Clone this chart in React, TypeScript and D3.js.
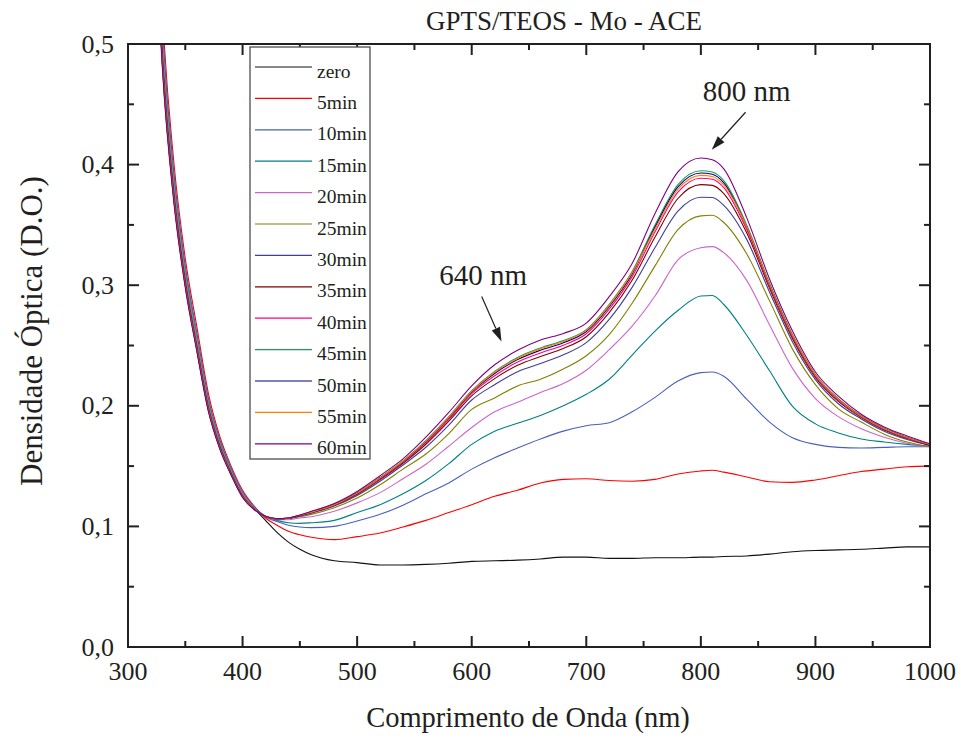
import React from "react";
import * as d3 from "d3";

const wavelengths = [320,330,340,350,360,370,380,390,400,410,420,430,440,450,460,480,500,520,540,560,580,600,620,640,660,680,700,720,740,760,780,800,810,820,840,860,880,900,920,940,960,980,1000];

const zero = [.72,.496,.380,.306,.252,.201,.168,.145,.126,.115,.105,.095,.087,.081,.0765,.0715,.070,.068,.068,.0685,.0695,.071,.0715,.072,.073,.0745,.0745,.0735,.0735,.074,.074,.0745,.0745,.075,.0755,.077,.079,.080,.0805,.081,.082,.083,.083];
const m5 = [.795,.529,.402,.322,.266,.211,.175,.150,.130,.117,.107,.101,.096,.093,.091,.089,.0915,.0945,.0995,.105,.1115,.118,.125,.130,.136,.139,.1395,.138,.1375,.139,.1435,.146,.1465,.145,.141,.137,.1365,.1385,.142,.1455,.1475,.1495,.150];
const m10 = [.768,.517,.394,.316,.261,.207,.1725,.1484,.1286,.1165,.108,.104,.101,.0995,.099,.100,.1045,.110,.1175,.127,.136,.1475,.157,.165,.1725,.179,.1835,.186,.195,.207,.2205,.2275,.228,.2245,.2055,.1865,.1735,.168,.1655,.165,.1655,.166,.166];
const m15 = [.75,.509,.389,.3125,.2575,.205,.171,.147,.1276,.116,.1085,.105,.103,.1025,.103,.105,.1115,.118,.127,.138,.152,.168,.179,.1855,.192,.200,.2095,.222,.242,.262,.279,.291,.2915,.284,.2585,.229,.1995,.185,.1775,.1725,.170,.168,.1665];
const m20 = [.735,.5025,.3845,.309,.255,.203,.1695,.146,.127,.1155,.108,.1055,.1055,.107,.108,.1125,.1195,.128,.1395,.1515,.1665,.182,.195,.203,.211,.2185,.2295,.2465,.266,.291,.321,.331,.332,.327,.304,.267,.231,.206,.191,.181,.174,.169,.166];
const m25 = [.72,.496,.380,.306,.252,.201,.168,.145,.126,.115,.108,.106,.1065,.108,.110,.1155,.1235,.1345,.1475,.160,.177,.197,.2065,.2165,.222,.2305,.2415,.259,.285,.316,.346,.3575,.358,.352,.326,.287,.247,.2175,.1975,.1865,.1765,.170,.166];
const m30 = [.706,.490,.376,.303,.249,.199,.167,.144,.125,.1146,.108,.106,.1067,.1086,.111,.1169,.1257,.1375,.1509,.1656,.184,.2048,.2175,.2283,.235,.2423,.2524,.2716,.2982,.3312,.3614,.3729,.3727,.3662,.338,.2942,.253,.2217,.2017,.1891,.1789,.172,.167];
const m35 = [.699,.4867,.3736,.3014,.2482,.1981,.166,.1436,.1248,.1144,.1083,.1063,.1068,.1089,.1115,.1175,.1267,.1389,.1524,.1681,.1872,.2083,.2225,.2336,.2409,.2476,.2573,.2773,.3041,.3399,.3719,.3834,.3828,.376,.3434,.2974,.2557,.2236,.2036,.1903,.18,.1729,.1674];
const m40 = [.696,.4853,.3726,.3006,.2476,.1977,.1657,.1433,.1247,.1143,.1083,.1063,.1068,.109,.1117,.1178,.1272,.1395,.1532,.1694,.1887,.2101,.2249,.2363,.2438,.2503,.2597,.2801,.3071,.3443,.3772,.3887,.3879,.3809,.3461,.2991,.257,.2245,.2045,.1909,.1805,.1733,.1677];
const m45 = [.6912,.4832,.3712,.2996,.2468,.197,.1652,.143,.1244,.1142,.1084,.1064,.1069,.1092,.112,.1183,.1279,.1405,.1543,.1712,.191,.2126,.2285,.2401,.248,.2541,.2632,.2842,.3114,.3499,.3834,.3949,.3939,.3867,.35,.3014,.259,.2259,.2059,.1917,.1813,.174,.168];
const m50 = [.6934,.4842,.3719,.3001,.2472,.1973,.1654,.1432,.1245,.1143,.1084,.1064,.1069,.1091,.1118,.1181,.1276,.1401,.1538,.1704,.19,.2114,.2268,.2383,.2461,.2523,.2616,.2823,.3094,.3482,.3815,.393,.392,.3849,.3482,.3003,.2581,.2253,.2053,.1913,.1809,.1737,.1678];
const m55 = [.6894,.4824,.3707,.2992,.2465,.1968,.165,.1429,.1243,.1142,.1084,.1064,.1069,.1092,.1118,.118,.1276,.1402,.154,.1707,.1905,.212,.2278,.2393,.2472,.2533,.2625,.2833,.3104,.3465,.3796,.3911,.3902,.3831,.3485,.3005,.2582,.2254,.2054,.1914,.181,.1737,.1679];
const m60 = [.684,.480,.369,.298,.2455,.196,.1645,.1425,.124,.114,.1085,.1065,.107,.1095,.1125,.119,.129,.142,.156,.174,.1945,.2165,.234,.246,.2545,.260,.2686,.2905,.318,.3595,.394,.4055,.404,.3965,.356,.305,.262,.228,.208,.193,.1825,.175,.1685];

const seriesNames = ["zero","5min","10min","15min","20min","25min","30min","35min","40min","45min","50min","55min","60min"];
const seriesValues = [zero,m5,m10,m15,m20,m25,m30,m35,m40,m45,m50,m55,m60];
const seriesColors = ["#111111","#ff0000","#4860c0","#008080","#cc66cc","#808000","#3f3f99","#800000","#ff0080","#1a9a5a","#000080","#ff8000","#800080"];

const xMajorTicks = [300,400,500,600,700,800,900,1000];
const xMinorTicks = [350,450,550,650,750,850,950];
const yMajorTicks = [0,0.1,0.2,0.3,0.4,0.5];
const yMinorTicks = [0.05,0.15,0.25,0.35,0.45];
const yTickLabels = ["0,0","0,1","0,2","0,3","0,4","0,5"];

const annotations = [
  { label: "800 nm", textX: 840, textY: 0.453, fromX: 839, fromY: 0.4434, toX: 809.5, toY: 0.4124 },
  { label: "640 nm", textX: 610, textY: 0.300, fromX: 608.7, fromY: 0.2907, toX: 626, toY: 0.2534 },
];

const FONT = "'Liberation Serif', 'Times New Roman', serif";

export default function App() {
  const W = 962, H = 737;
  const L = 128, R = 930, T = 44, B = 647;
  const x = d3.scaleLinear().domain([300, 1000]).range([L, R]);
  const y = d3.scaleLinear().domain([0, 0.5]).range([B, T]);
  const line = d3.line<number>().x((_, i) => x(wavelengths[i])).y((d) => y(d)).curve(d3.curveMonotoneX);
  const axisColor = "#231f20";
  const major = 11, minor = 6;

  const legendX = 250, legendY = 47, legendW = 120, legendH = 412;
  const rowY0 = 67, rowStep = 31.4;

  return (
    <svg width={W} height={H} style={{ position: "absolute", left: 0, top: 0, background: "#fff" }} fontFamily={FONT}>
      <defs>
        <clipPath id="plotclip">
          <rect x={L} y={T} width={R - L} height={B - T} />
        </clipPath>
      </defs>
      <rect x={0} y={0} width={W} height={H} fill="#fff" />
      <g clipPath="url(#plotclip)">
        {seriesValues.map((vals, i) => (
          <path key={i} d={line(vals) || ""} fill="none" stroke={seriesColors[i]} strokeWidth={1.1} strokeLinejoin="round" />
        ))}
      </g>
      <rect x={L} y={T} width={R - L} height={B - T} fill="none" stroke={axisColor} strokeWidth={2} />
      {xMajorTicks.map((t) => (
        <g key={"xm" + t}>
          <line x1={x(t)} x2={x(t)} y1={B} y2={B - major} stroke={axisColor} strokeWidth={2} />
          <line x1={x(t)} x2={x(t)} y1={T} y2={T + major} stroke={axisColor} strokeWidth={2} />
          <text x={x(t)} y={B + 33} textAnchor="middle" fontSize={26} fill="#231f20">{t}</text>
        </g>
      ))}
      {xMinorTicks.map((t) => (
        <g key={"xn" + t}>
          <line x1={x(t)} x2={x(t)} y1={B} y2={B - minor} stroke={axisColor} strokeWidth={2} />
          <line x1={x(t)} x2={x(t)} y1={T} y2={T + minor} stroke={axisColor} strokeWidth={2} />
        </g>
      ))}
      {yMajorTicks.map((t, i) => (
        <g key={"ym" + t}>
          <line x1={L} x2={L + major} y1={y(t)} y2={y(t)} stroke={axisColor} strokeWidth={2} />
          <line x1={R} x2={R - major} y1={y(t)} y2={y(t)} stroke={axisColor} strokeWidth={2} />
          <text x={114} y={y(t) + 8.5} textAnchor="end" fontSize={26} fill="#231f20">{yTickLabels[i]}</text>
        </g>
      ))}
      {yMinorTicks.map((t) => (
        <g key={"yn" + t}>
          <line x1={L} x2={L + minor} y1={y(t)} y2={y(t)} stroke={axisColor} strokeWidth={2} />
          <line x1={R} x2={R - minor} y1={y(t)} y2={y(t)} stroke={axisColor} strokeWidth={2} />
        </g>
      ))}
      <text x={564} y={30} textAnchor="middle" fontSize={27} fill="#231f20">GPTS/TEOS - Mo - ACE</text>
      <text x={528} y={727} textAnchor="middle" fontSize={28.5} fill="#231f20">Comprimento de Onda (nm)</text>
      <text transform={`translate(42, 331) rotate(-90)`} textAnchor="middle" fontSize={31} fill="#231f20">Densidade Óptica (D.O.)</text>
      {annotations.map((a) => {
        const x1 = x(a.fromX), y1 = y(a.fromY), x2 = x(a.toX), y2 = y(a.toY);
        const ang = Math.atan2(y2 - y1, x2 - x1);
        const hl = 14, hw = 4.5;
        const bx = x2 - hl * Math.cos(ang), by = y2 - hl * Math.sin(ang);
        const px = -Math.sin(ang) * hw, py = Math.cos(ang) * hw;
        return (
          <g key={a.label}>
            <line x1={x1} y1={y1} x2={bx} y2={by} stroke="#231f20" strokeWidth={1.2} />
            <polygon points={`${x2},${y2} ${bx + px},${by + py} ${bx - px},${by - py}`} fill="#231f20" />
            <text x={x(a.textX)} y={y(a.textY)} textAnchor="middle" fontSize={29} fill="#231f20">{a.label}</text>
          </g>
        );
      })}
      <rect x={legendX} y={legendY} width={legendW} height={legendH} fill="#fff" stroke="#4d4d4d" strokeWidth={1.3} />
      {seriesNames.map((n, i) => {
        const ry = rowY0 + i * rowStep;
        return (
          <g key={n}>
            <line x1={255} x2={312} y1={ry} y2={ry} stroke={seriesColors[i]} strokeWidth={1.2} />
            <text x={317} y={ry + 10.5} fontSize={19.5} fill="#231f20">{n}</text>
          </g>
        );
      })}
    </svg>
  );
}
